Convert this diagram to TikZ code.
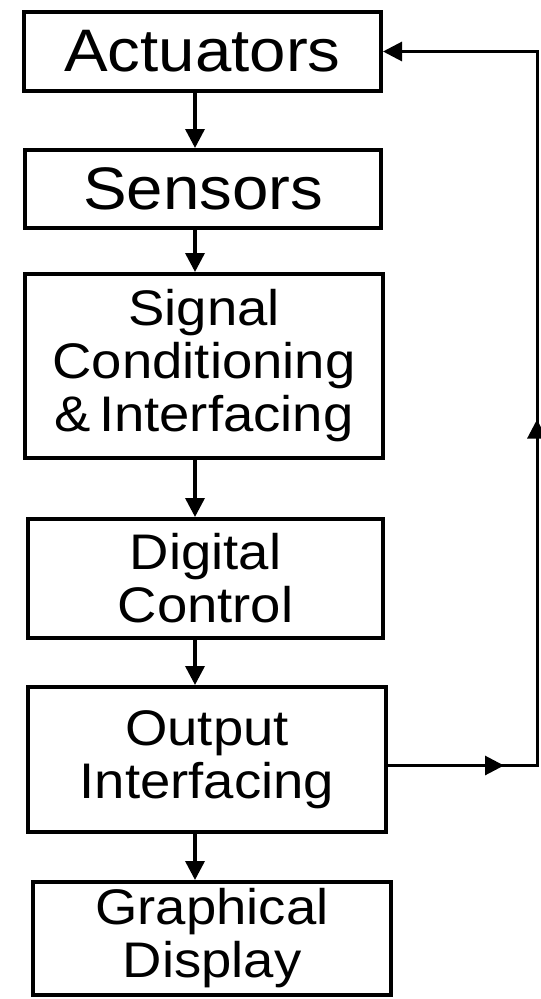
\documentclass[tikz,border=0pt]{standalone}
\usepackage{fontspec}
\newfontfamily\boxfont[FakeStretch=1.09]{Liberation Sans}
\usetikzlibrary{arrows.meta,decorations.markings}
\begin{document}
\begin{tikzpicture}[x=1pt,y=-1pt,
  block/.style={draw, line width=4pt, inner sep=0pt, align=center,
    font=\boxfont\fontsize{50}{53}\selectfont},
  bigtext/.style={font=\boxfont\fontsize{60}{64}\selectfont},
  flow/.style={line width=3.5pt, line join=miter, -{Triangle[length=19pt,width=19pt]}},
  loopline/.style={line width=3pt, line join=miter, -{Triangle[length=19pt,width=19pt]}}]
\useasboundingbox (0,0) rectangle (541,999);

% processing chain
\node[block, bigtext, minimum width=357pt, minimum height=79pt] (act) at (202.5,51.5) {Actuators};
\node[block, bigtext, minimum width=356pt, minimum height=78pt] (sen) at (203,189) {Sensors};
\node[block, minimum width=358pt, minimum height=184pt] (sig) at (204,366) {Signal\\Conditioning\\\&\,Interfacing};
\node[block, minimum width=355pt, minimum height=119pt] (dig) at (205.5,578.5) {Digital\\Control};
\node[block, minimum width=358pt, minimum height=145pt] (out) at (207,759.5) {Output\\Interfacing};
\node[block, minimum width=358pt, minimum height=113pt] (gra) at (212,938.5) {Graphical\\Display};

% vertical flow between the blocks
\coordinate (vx) at (195,0);
\draw[flow] (act.south -| vx) -- (sen.north -| vx);
\draw[flow] (sen.south -| vx) -- (sig.north -| vx);
\draw[flow] (sig.south -| vx) -- (dig.north -| vx);
\draw[flow] (dig.south -| vx) -- (out.north -| vx);
\draw[flow] (out.south -| vx) -- (gra.north -| vx);

% feedback loop from the output stage back to the actuators
\coordinate (fbx) at (537,0);
\coordinate (outr) at ([yshift=-6pt]out.east);
\draw[loopline, postaction=decorate, decoration={markings,
    mark=at position 116pt with {\arrow{Triangle[length=19pt,width=19pt]}},
    mark=at position 495pt with {\arrow{Triangle[length=19pt,width=19pt]}}}]
  (outr) -- (outr -| fbx) -- (act.east -| fbx) -- (act.east);
\end{tikzpicture}
\end{document}
